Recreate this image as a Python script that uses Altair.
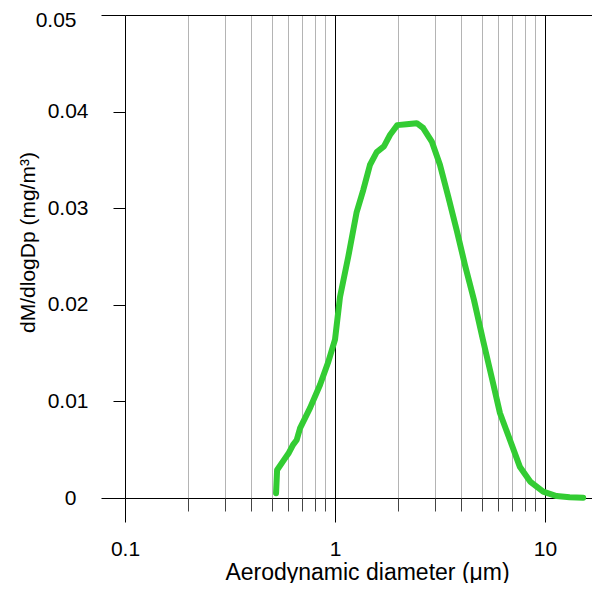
import altair as alt
import pandas as pd

diameter = [0.524, 0.53, 0.578, 0.60, 0.631, 0.657, 0.681, 0.76, 0.848, 0.926, 1.0,
            1.056, 1.157, 1.268, 1.364, 1.468, 1.58, 1.71, 1.83, 1.98, 2.19, 2.45,
            2.63, 2.89, 3.16, 3.46, 3.80, 4.16, 4.59, 5.06, 5.6, 6.1, 6.81, 7.6, 8.5,
            9.8, 11.35, 13.1, 15.2]
dm_dlogdp = [0.0005, 0.0029, 0.0041, 0.0046, 0.0055, 0.0060, 0.0072, 0.0093, 0.0117,
             0.0140, 0.0164, 0.0208, 0.0250, 0.0296, 0.0319, 0.0345, 0.0358, 0.0364,
             0.0376, 0.0386, 0.0387, 0.0388, 0.0383, 0.0369, 0.0345, 0.0312, 0.0277,
             0.0241, 0.0205, 0.0164, 0.0123, 0.0088, 0.0060, 0.0032, 0.0017, 0.00065,
             0.0002, 0.00007, 0.00003]

x_ticks = [0.1, 0.2, 0.3, 0.4, 0.5, 0.6, 0.7, 0.8, 0.9, 1, 2, 3, 4, 5, 6, 7, 8, 9, 10]
y_ticks = [0, 0.01, 0.02, 0.03, 0.04, 0.05]
x_domain = [0.1, 16.74]
y_domain = [0, 0.05]

df = pd.DataFrame({"d": diameter, "m": dm_dlogdp})

FONT = "Liberation Sans"
major_test = "datum.value == 0.1 || datum.value == 1 || datum.value == 10"
edge_test = "datum.value == 0 || datum.value == 0.05"

chart = alt.Chart(df).mark_line(
    color="#33cc33", strokeWidth=6, strokeCap="round", strokeJoin="round"
).encode(
    x=alt.X("d:Q", scale=alt.Scale(type="log", domain=x_domain, nice=False),
            axis=alt.Axis(
                values=x_ticks, format="~g", title="Aerodynamic diameter (μm)",
                labelExpr=f"({major_test}) ? datum.label : ''",
                domain=False, grid=True,
                gridColor={"condition": {"test": major_test, "value": "black"}, "value": "#b4b4b4"},
                gridWidth=1,
                tickSize={"condition": {"test": major_test, "value": 24}, "value": 13},
                tickColor={"condition": {"test": major_test, "value": "black"}, "value": "#444444"},
                labelFontSize=21, labelFont=FONT, labelColor="black", labelPadding=16,
                labelFlush=False,
                titleFontSize=23, titleFont=FONT, titleFontWeight="normal", titleColor="black",
                titleX=242, titleY=81, titleBaseline="alphabetic")),
    y=alt.Y("m:Q", scale=alt.Scale(domain=y_domain, nice=False),
            axis=alt.Axis(
                values=y_ticks, format="~g", title="dM/dlogDp (mg/m³)",
                domain=False, grid=True,
                gridColor="black",
                gridOpacity={"condition": {"test": edge_test, "value": 1}, "value": 0},
                gridWidth=1,
                tickSize={"condition": {"test": edge_test, "value": 24}, "value": 12},
                tickColor="black",
                labelOffset={"condition": {"test": "datum.value == 0.05", "value": 5}, "value": 0},
                labelFontSize=21, labelFont=FONT, labelColor="black", labelPadding=25,
                labelFlush=False,
                titleFontSize=21, titleFont=FONT, titleFontWeight="normal", titleColor="black",
                titleX=-91, titleY=227, titleBaseline="alphabetic")),
).properties(
    width=467, height=483,
    autosize=alt.AutoSizeParams(type="none"),
    padding={"left": 117, "top": 7, "right": 0, "bottom": 85},
).configure_view(stroke=None).configure(background="white")

chart.save("out.html", embed_options={"renderer": "svg", "actions": False})
